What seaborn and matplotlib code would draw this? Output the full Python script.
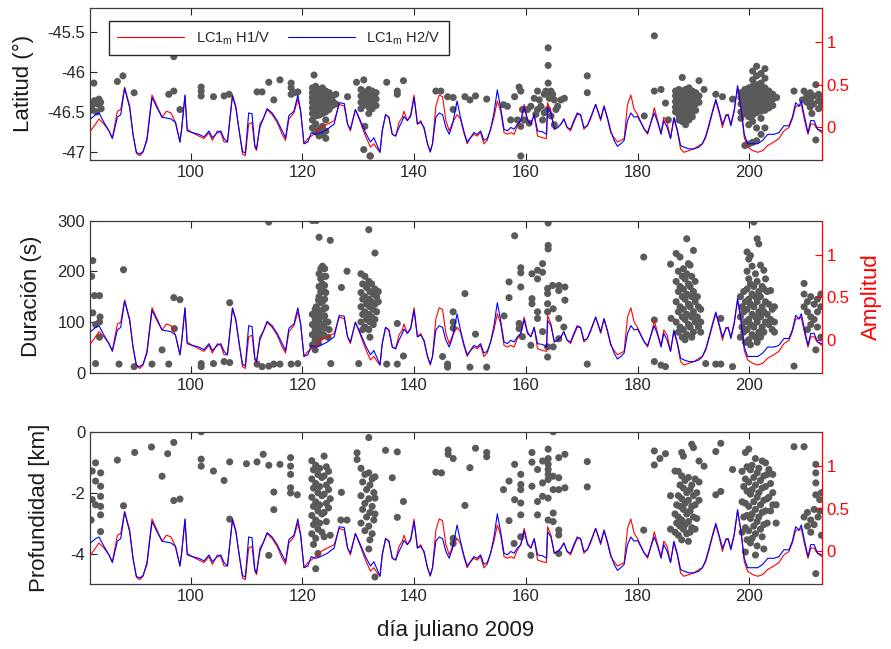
import matplotlib
matplotlib.use("Agg")
import matplotlib.pyplot as plt
import seaborn as sns

sns.set_theme(style="ticks")
plt.rcParams.update({
    "font.family": ["Liberation Sans", "DejaVu Sans"],
    "mathtext.fontset": "custom",
    "mathtext.rm": "Liberation Sans",
    "mathtext.it": "Liberation Sans:italic",
    "axes.unicode_minus": False,
    "xtick.direction": "in",
    "ytick.direction": "in",
})

# ---- amplitude curves (right axis, same in every panel) ----
amp_days = [
    82.1, 83.0, 83.6, 84.5, 85.4, 86.0, 86.9, 87.5, 88.2, 89.1,
    89.7, 90.3, 90.9, 91.5, 92.2, 93.1, 94.0, 94.9, 95.7, 96.5,
    97.3, 98.1, 98.4, 99.0, 99.4, 100.3, 101.5, 102.4, 103.3, 103.9,
    104.8, 105.4, 106.0, 106.6, 107.5, 108.1, 108.7, 109.3, 109.8, 110.4,
    111.0, 111.5, 111.8, 112.4, 113.0, 113.7, 114.6, 115.5, 116.4, 117.0,
    117.6, 118.5, 119.2, 119.7, 120.3, 121.0, 121.6, 122.4, 123.3, 124.5,
    125.7, 126.6, 127.5, 128.1, 128.6, 129.5, 130.4, 131.3, 132.2, 132.8,
    133.4, 133.9, 134.3, 134.9, 135.5, 136.1, 136.7, 137.3, 137.9, 138.2,
    138.8, 139.4, 140.0, 140.6, 141.2, 141.8, 142.4, 142.9, 143.3, 143.9,
    144.5, 145.1, 145.7, 146.3, 146.9, 147.7, 148.3, 148.9, 149.5, 150.1,
    150.7, 151.3, 151.9, 152.5, 153.1, 153.7, 154.3, 154.9, 155.5, 156.1,
    156.7, 157.3, 157.9, 158.5, 159.1, 159.7, 160.3, 160.9, 161.5, 162.1,
    163.0, 163.7, 163.9, 164.5, 165.1, 165.7, 166.3, 166.8, 167.4, 168.0,
    168.6, 169.2, 169.8, 170.4, 171.0, 171.6, 172.5, 173.4, 174.0, 174.6,
    175.2, 175.8, 176.4, 177.0, 177.6, 178.2, 178.8, 179.4, 180.0, 181.2,
    181.8, 182.4, 183.0, 183.6, 184.2, 184.7, 185.3, 185.9, 186.5, 187.1,
    187.7, 188.3, 189.2, 190.1, 191.0, 191.6, 192.2, 192.8, 193.4, 194.0,
    194.6, 195.2, 195.8, 196.2, 196.7, 197.3, 197.9, 198.5, 199.1, 199.7,
    200.6, 201.5, 202.4, 203.3, 204.4, 205.3, 206.2, 207.1, 207.7, 208.3,
    208.9, 209.3, 209.9, 210.5, 211.0, 211.6, 212.2, 213.0,
]
amp_h2 = [
    0.10, 0.15, 0.17, 0.06, -0.04, -0.13, 0.12, 0.15, 0.46, 0.23,
    -0.08, -0.29, -0.31, -0.28, -0.15, 0.35, 0.23, 0.12, 0.11, 0.10,
    0.06, -0.17, -0.02, 0.38, -0.04, -0.06, -0.08, -0.11, -0.04, -0.12,
    -0.06, -0.04, -0.13, -0.17, 0.37, 0.23, -0.04, -0.28, -0.30, 0.17,
    0.16, -0.21, -0.25, 0.00, 0.10, 0.22, 0.17, 0.08, -0.04, -0.12,
    0.14, 0.19, 0.38, 0.19, -0.19, -0.17, -0.06, -0.08, -0.06, -0.02,
    0.04, 0.29, 0.28, 0.04, -0.02, 0.21, 0.08, -0.06, -0.17, -0.12,
    -0.21, -0.29, -0.04, 0.15, 0.12, -0.08, -0.10, 0.00, 0.08, 0.13,
    0.08, 0.13, 0.35, 0.04, 0.06, 0.00, -0.19, -0.28, -0.19, 0.12,
    0.17, 0.15, 0.00, -0.08, 0.04, 0.31, 0.12, -0.04, -0.17, -0.12,
    -0.06, -0.08, -0.04, -0.15, -0.13, -0.02, 0.17, 0.44, 0.23, -0.02,
    -0.04, 0.00, -0.02, 0.04, 0.08, 0.24, 0.08, 0.04, 0.15, -0.04,
    -0.05, -0.08, 0.23, 0.17, -0.02, 0.00, 0.04, 0.10, 0.00, -0.02,
    0.08, 0.17, 0.15, 0.00, 0.02, 0.12, 0.27, 0.10, 0.25, 0.12,
    -0.04, -0.15, -0.22, -0.19, -0.15, 0.08, 0.17, 0.12, 0.13, -0.02,
    -0.06, 0.06, 0.17, 0.06, -0.08, 0.08, 0.00, -0.13, 0.12, -0.02,
    -0.21, -0.23, -0.25, -0.25, -0.23, -0.19, -0.10, 0.04, 0.19, 0.33,
    0.19, 0.04, 0.13, 0.15, 0.02, 0.19, 0.49, 0.23, -0.08, -0.19,
    -0.19, -0.19, -0.15, -0.08, -0.08, -0.06, 0.02, 0.02, 0.12, 0.29,
    0.25, 0.31, 0.12, -0.06, 0.08, 0.08, -0.02, -0.04,
]
amp_h1 = [
    -0.04, 0.04, 0.10, 0.04, -0.04, -0.12, 0.19, 0.21, 0.47, 0.25,
    -0.08, -0.30, -0.33, -0.29, -0.12, 0.38, 0.25, 0.12, 0.19, 0.17,
    0.06, -0.17, -0.02, 0.37, -0.02, -0.06, -0.10, -0.13, -0.06, -0.15,
    -0.04, -0.06, -0.17, -0.17, 0.38, 0.25, -0.04, -0.31, -0.33, 0.04,
    0.06, -0.23, -0.27, 0.04, 0.10, 0.21, 0.15, 0.06, -0.08, -0.15,
    0.10, 0.17, 0.33, 0.19, -0.19, -0.13, -0.10, -0.06, 0.00, 0.04,
    0.08, 0.27, 0.25, 0.04, -0.04, 0.21, 0.06, -0.10, -0.23, -0.19,
    -0.25, -0.29, -0.04, 0.15, 0.12, -0.08, -0.10, 0.06, 0.12, 0.19,
    0.08, 0.15, 0.38, 0.04, 0.08, -0.02, -0.19, -0.29, -0.19, 0.25,
    0.38, 0.36, 0.08, -0.04, 0.06, 0.15, 0.10, -0.06, -0.19, -0.12,
    -0.08, -0.10, -0.06, -0.19, -0.15, -0.02, 0.12, 0.31, 0.19, -0.06,
    -0.08, -0.06, -0.08, 0.02, 0.08, 0.27, 0.10, 0.04, 0.15, -0.10,
    -0.12, -0.13, 0.29, 0.19, -0.02, 0.00, 0.04, 0.10, 0.00, -0.04,
    0.06, 0.15, 0.15, -0.02, 0.02, 0.10, 0.27, 0.08, 0.25, 0.10,
    -0.06, -0.12, -0.17, -0.15, -0.13, 0.27, 0.38, 0.21, 0.15, -0.02,
    -0.08, 0.06, 0.23, 0.08, -0.06, 0.12, 0.06, -0.13, 0.10, -0.04,
    -0.25, -0.29, -0.27, -0.25, -0.21, -0.19, -0.12, 0.02, 0.17, 0.31,
    0.17, 0.00, 0.15, 0.15, 0.04, 0.21, 0.47, 0.25, -0.12, -0.23,
    -0.27, -0.29, -0.27, -0.21, -0.17, -0.13, -0.04, 0.00, 0.10, 0.25,
    0.25, 0.27, 0.08, -0.08, 0.04, 0.04, -0.02, -0.06,
]

# ---- events: latitude (deg) ----
lat_single = [
    (82.3, -46.42), (82.7, -46.14), (82.8, -46.36), (83.3, -46.40), (83.6, -46.34),
    (83.9, -46.38), (82.5, -46.48), (83.2, -46.50), (84.0, -46.46), (86.9, -46.12),
    (87.9, -46.05), (89.9, -46.26), (94.9, -45.74), (97.0, -45.81), (96.1, -46.28),
    (97.0, -46.24), (98.1, -46.47), (101.9, -46.19), (101.9, -46.24), (101.9, -46.30),
    (104.1, -46.31), (106.0, -46.30), (106.9, -46.28), (111.9, -46.25), (112.8, -46.25),
    (114.0, -46.13), (114.9, -46.35), (116.0, -46.10), (118.0, -46.14), (118.0, -46.20),
    (118.0, -46.28), (118.6, -46.26), (119.2, -46.25), (122.1, -46.04), (128.1, -46.31),
    (129.7, -46.13), (131.0, -46.10), (131.0, -46.97), (132.1, -47.05), (131.2, -46.68),
    (132.2, -47.05), (135.1, -46.13), (137.0, -46.24), (137.0, -46.28), (138.1, -46.11),
    (143.9, -46.24), (144.8, -46.24), (146.0, -46.31), (147.0, -46.32), (147.0, -46.47),
    (149.1, -46.31), (150.0, -46.35), (151.0, -46.30), (153.0, -46.34), (156.0, -46.41),
    (159.1, -47.05), (171.0, -46.05), (171.0, -46.26), (181.2, -46.55), (183.0, -45.55),
    (183.0, -46.24), (184.2, -46.22), (185.0, -46.39), (185.5, -46.60), (191.9, -46.22),
    (194.0, -46.28), (195.2, -46.31), (197.0, -46.34), (208.0, -46.24), (209.8, -46.24),
    (209.5, -46.35), (210.3, -46.30), (210.3, -46.38), (210.9, -46.26), (210.9, -46.34),
    (210.9, -46.44), (211.5, -46.30), (211.5, -46.40), (211.9, -46.16), (211.9, -46.85),
    (212.4, -46.28), (212.4, -46.36), (212.4, -46.46), (212.9, -46.32), (212.9, -46.40),
    (211.2, -46.52),
    (156.7, -46.43), (157.3, -46.60), (158.0, -46.31), (158.5, -46.60), (158.8, -46.19),
    (159.1, -46.24), (159.1, -46.68), (159.4, -46.47), (159.7, -46.60), (160.3, -46.47),
    (160.6, -46.64), (160.9, -46.43), (161.5, -46.33), (161.8, -46.53), (162.1, -46.24),
    (162.1, -46.47), (162.4, -46.35), (162.7, -46.43), (163.0, -46.60), (163.3, -46.28),
    (163.3, -46.51), (163.6, -46.24), (163.9, -46.26), (163.9, -46.47), (164.0, -45.70),
    (164.0, -45.92), (164.0, -46.14), (164.2, -46.33), (164.5, -46.24), (164.5, -46.55),
    (164.8, -46.28), (165.1, -46.35), (165.1, -46.66), (165.4, -46.47), (165.7, -46.43),
    (166.3, -46.35), (166.9, -46.33),
]
lat_groups = [
    (121.8, [-46.20, -46.26, -46.32, -46.38, -46.45, -46.52, -46.60, -46.70]),
    (122.4, [-46.18, -46.24, -46.30, -46.36, -46.42, -46.48, -46.55, -46.65, -46.75]),
    (123.0, [-46.22, -46.28, -46.34, -46.40, -46.47, -46.54, -46.72, -46.80]),
    (123.6, [-46.20, -46.27, -46.33, -46.40, -46.46, -46.52, -46.68, -46.78]),
    (124.2, [-46.24, -46.30, -46.36, -46.43, -46.50, -46.60, -46.74, -46.83]),
    (124.8, [-46.26, -46.33, -46.40, -46.47]),
    (125.4, [-46.30, -46.36, -46.42]),
    (126.0, [-46.28, -46.40]),
    (130.5, [-46.22, -46.30, -46.38, -46.46]),
    (131.2, [-46.25, -46.33, -46.41]),
    (131.9, [-46.22, -46.28, -46.36, -46.44, -46.52]),
    (132.5, [-46.24, -46.30, -46.38, -46.46]),
    (133.2, [-46.26, -46.34, -46.42]),
    (186.8, [-46.24, -46.30, -46.37, -46.44, -46.50]),
    (187.4, [-46.22, -46.28, -46.34, -46.40, -46.47, -46.54, -46.60]),
    (188.0, [-46.07, -46.24, -46.30, -46.36, -46.42, -46.48, -46.55, -46.62]),
    (188.6, [-46.22, -46.28, -46.34, -46.40, -46.46, -46.52, -46.58, -46.66]),
    (189.2, [-46.20, -46.26, -46.33, -46.39, -46.45, -46.52, -46.60]),
    (189.8, [-46.24, -46.30, -46.37, -46.44, -46.50, -46.56]),
    (190.4, [-46.26, -46.32, -46.40, -46.48]),
    (191.0, [-46.11, -46.30, -46.38]),
    (198.5, [-46.26, -46.32, -46.40, -46.50, -46.58]),
    (199.2, [-46.22, -46.30, -46.37, -46.44, -46.52, -46.92]),
    (199.9, [-46.20, -46.27, -46.34, -46.41, -46.48, -46.56, -46.66, -46.90]),
    (200.6, [-45.99, -46.10, -46.18, -46.25, -46.32, -46.39, -46.46, -46.54, -46.62, -46.88]),
    (201.3, [-45.93, -46.05, -46.16, -46.23, -46.30, -46.37, -46.44, -46.51, -46.70, -46.86]),
    (202.1, [-46.02, -46.14, -46.21, -46.28, -46.35, -46.42, -46.49, -46.58, -46.78]),
    (202.8, [-45.96, -46.08, -46.20, -46.27, -46.34, -46.41, -46.48, -46.70]),
    (203.5, [-46.24, -46.31, -46.38, -46.45]),
    (204.2, [-46.28, -46.34, -46.42]),
    (204.9, [-46.32]),
]

# ---- events: duration (s) ----
dur_single = [
    (82.5, 221), (82.3, 190), (82.8, 152), (83.7, 152), (82.5, 118), (83.8, 110),
    (83.0, 95), (83.7, 100), (83.7, 70), (83.0, 18), (88.0, 203), (87.2, 17),
    (89.9, 12), (93.1, 17), (94.9, 45), (96.1, 17), (97.0, 148), (98.1, 144),
    (97.1, 87), (101.9, 18), (101.9, 12), (104.1, 18), (106.0, 22), (107.0, 20),
    (107.0, 138), (111.9, 17), (112.8, 12), (114.0, 297), (114.0, 13), (114.9, 17),
    (116.0, 17), (118.0, 17), (119.2, 18), (125.0, 261), (125.1, 18), (127.0, 168),
    (128.0, 200), (130.1, 18), (131.9, 282), (133.0, 236), (135.1, 17), (137.0, 97),
    (137.0, 17), (138.1, 33), (145.1, 32), (146.0, 17), (146.0, 11), (147.0, 120),
    (147.0, 100), (147.0, 88), (149.1, 156), (150.0, 11), (151.0, 76), (153.0, 11),
    (156.1, 112), (157.0, 179), (158.0, 270), (157.0, 148), (159.1, 207), (159.1, 197),
    (159.1, 169), (161.1, 195), (162.1, 202), (162.1, 185), (163.0, 215), (163.0, 198),
    (164.0, 295), (164.0, 251), (164.0, 244), (163.9, 166), (163.9, 156), (164.8, 172),
    (165.9, 172), (165.9, 162), (167.0, 169), (167.0, 143), (161.1, 146), (161.1, 136),
    (162.1, 120), (162.1, 107), (163.9, 136), (163.9, 120), (164.9, 126), (165.9, 107),
    (158.8, 97), (158.8, 87), (159.4, 71), (160.9, 54), (163.0, 81), (163.9, 51),
    (163.9, 31), (165.9, 67), (164.9, 51), (166.8, 90), (171.0, 17), (181.1, 228),
    (183.0, 104), (183.0, 22), (184.2, 15), (185.0, 12), (185.9, 214), (186.0, 107),
    (192.2, 18), (194.0, 17), (194.9, 17), (194.9, 107), (197.0, 12), (208.0, 13),
    (209.8, 176), (209.8, 155), (209.8, 130), (210.4, 140), (210.4, 120), (211.0, 150),
    (211.0, 110), (211.0, 95), (211.6, 135), (211.6, 105), (212.2, 145), (212.2, 120),
    (212.2, 90), (212.8, 155), (212.8, 130), (212.8, 70), (211.9, 45), (210.4, 85),
]
dur_groups = [
    (121.8, [300, 115, 95, 75, 55]),
    (122.3, [125, 105, 85, 65, 45]),
    (122.5, [300, 130, 108, 88, 68]),
    (122.9, [143, 118, 98, 78, 58]),
    (123.0, [267, 195, 170, 150, 122, 100, 80]),
    (123.3, [205, 185, 160, 138, 110, 90, 70]),
    (123.6, [210, 175, 140, 95]),
    (123.8, [190, 160, 125, 75]),
    (124.0, [205, 172, 145, 112, 88]),
    (124.2, [190, 158, 128, 100]),
    (124.6, [100, 70]),
    (124.8, [85]),
    (130.5, [195, 158, 130, 100]),
    (130.8, [175, 145, 115, 85]),
    (131.2, [190, 150, 120, 90]),
    (131.5, [168, 135, 105]),
    (131.9, [180, 145, 115, 85]),
    (132.1, [160, 130, 100, 70]),
    (132.4, [175, 140, 110]),
    (132.7, [155, 125, 95]),
    (133.0, [165, 135, 105]),
    (133.3, [150, 120]),
    (133.6, [160, 140]),
    (186.9, [235, 180, 140, 100]),
    (187.3, [200, 160, 120, 80]),
    (187.6, [228, 170, 130, 90]),
    (188.0, [190, 150, 110, 70]),
    (188.2, [205, 165, 125, 85]),
    (188.5, [185, 145, 105, 65]),
    (188.8, [264, 195, 155, 115, 75]),
    (189.1, [215, 175, 135, 95]),
    (189.4, [212, 170, 130, 90]),
    (189.7, [190, 150, 110, 70]),
    (190.0, [241, 160, 120, 80]),
    (190.3, [180, 140, 100]),
    (190.7, [150, 110]),
    (190.9, [130, 90]),
    (191.3, [125, 100, 80]),
    (198.4, [150, 110, 70]),
    (198.7, [130, 90]),
    (199.0, [160, 120, 80]),
    (199.3, [140, 100, 60]),
    (199.6, [238, 200, 165, 125, 85]),
    (199.9, [224, 185, 145, 105, 65]),
    (200.2, [231, 175, 135, 95, 55]),
    (200.5, [210, 155, 115, 75]),
    (200.8, [297, 170, 130, 90]),
    (201.1, [195, 150, 110, 70]),
    (201.4, [264, 180, 140, 100, 60]),
    (201.7, [254, 160, 120, 80]),
    (202.0, [212, 150, 110, 70]),
    (202.3, [170, 130, 90]),
    (202.6, [202, 165, 120, 80]),
    (202.9, [185, 140, 100]),
    (203.2, [160, 115]),
    (203.5, [135, 95]),
    (203.8, [162, 105]),
    (204.1, [125, 85]),
    (204.5, [130, 100, 80]),
]

# ---- events: depth (km) ----
dep_single = [
    (83.0, -1.02), (83.9, -1.35), (83.0, -1.62), (83.9, -1.79), (83.9, -2.12),
    (82.4, -2.23), (83.0, -2.40), (83.9, -2.45), (83.9, -2.73), (83.9, -3.28),
    (82.4, -1.29), (82.2, -2.90), (86.9, -0.93), (88.0, -2.43), (90.0, -0.68),
    (93.0, -0.50), (94.9, -1.46), (95.9, -0.72), (97.0, -0.35), (97.0, -2.26),
    (98.1, -2.21), (101.9, 0.0), (101.9, -0.90), (101.9, -1.13), (104.1, -1.29),
    (106.0, -1.60), (107.0, -0.99), (107.0, -2.87), (110.0, -1.05), (111.9, -0.99),
    (113.0, -0.74), (114.0, -1.10), (116.0, -1.07), (114.9, -1.98), (114.9, -2.56),
    (117.9, -0.85), (117.9, -1.13), (117.9, -1.40), (117.9, -1.84), (117.9, -2.01),
    (119.1, -2.07), (114.0, -4.06), (127.0, -1.99), (126.9, -2.90), (128.0, -2.90),
    (129.8, -0.69), (129.8, -0.91), (134.9, -0.61), (137.0, -0.66), (136.1, -1.51),
    (138.1, -2.29), (137.0, -2.81), (143.9, -1.33), (144.9, -1.35), (146.1, -0.60),
    (146.1, -0.74), (147.0, -0.88), (147.0, -3.50), (147.0, -3.67), (149.1, -2.42),
    (150.0, -1.18), (151.0, -0.54), (153.0, -0.68), (153.0, -0.82), (156.0, -1.90),
    (157.0, -1.62), (157.0, -2.92), (158.0, -1.07), (158.0, -2.23), (159.1, -1.40),
    (159.1, -1.73), (159.1, -1.90), (159.1, -2.34), (159.1, -2.73), (159.1, -3.45),
    (161.1, -0.68), (161.1, -1.00), (161.1, -1.79), (162.1, -1.24), (162.1, -2.29),
    (162.1, -2.73), (163.0, -0.96), (163.0, -1.68), (163.0, -2.12), (164.0, -0.57),
    (164.0, -0.88), (164.0, -1.07), (164.0, -1.24), (164.0, -1.40), (164.0, -1.57),
    (164.0, -2.18), (164.0, -2.90), (164.9, 0.0), (164.9, -1.46), (164.9, -1.90),
    (164.9, -2.67), (164.9, -2.95), (165.9, -0.85), (165.9, -1.51), (165.9, -1.90),
    (165.9, -3.23), (165.9, -3.39), (167.0, -0.74), (167.0, -1.84), (165.9, -4.00),
    (160.9, -4.06), (157.9, -3.67), (171.0, -0.98), (171.0, -1.81), (181.1, -3.23),
    (183.0, -0.63), (183.0, -1.09), (184.0, -0.88), (185.0, -0.72), (185.9, -2.10),
    (185.9, -3.20), (191.9, -1.13), (194.0, -0.65), (194.9, -0.38), (194.9, -1.96),
    (194.0, -2.07), (197.0, -1.24), (208.0, -0.49), (209.8, -0.49), (209.8, -2.80),
    (210.4, -2.65), (210.4, -3.10), (211.0, -2.90), (211.0, -3.30), (211.6, -2.55),
    (211.6, -3.05), (211.9, -1.07), (211.9, -1.35), (211.9, -1.68), (211.9, -2.07),
    (212.3, -2.80), (212.6, -2.23), (212.6, -2.60), (212.9, -2.00), (211.9, -4.66),
    (212.9, -3.40),
]
dep_groups = [
    (121.7, [-0.95, -1.55, -2.15, -2.75, -3.35]),
    (122.0, [-1.25, -1.85, -2.45, -3.05, -3.70]),
    (122.4, [-1.10, -1.70, -2.30, -2.90, -3.50, -4.50]),
    (122.8, [-1.40, -2.00, -2.60, -3.20, -4.00]),
    (123.1, [-1.20, -1.80, -2.40, -3.00]),
    (123.5, [-1.50, -2.10, -2.70, -3.30]),
    (123.9, [-0.80, -1.45, -2.05, -2.65, -3.45]),
    (124.3, [-1.15, -1.75, -2.35, -2.95]),
    (124.7, [-1.30, -1.90, -2.50]),
    (125.0, [-1.60, -2.20, -3.40]),
    (130.5, [-1.20, -2.10, -3.00]),
    (130.8, [-1.65, -2.55]),
    (131.2, [-1.40, -2.35, -3.25]),
    (131.5, [-1.90, -2.80]),
    (131.9, [-0.19, -1.35, -2.20, -3.10, -3.85]),
    (132.1, [-1.75, -2.65, -3.55]),
    (132.5, [-1.55, -2.45, -3.35]),
    (132.8, [-2.00, -2.90]),
    (133.0, [-1.48, -2.18, -2.70, -4.77]),
    (186.7, [-1.29, -2.70, -3.30]),
    (187.0, [-2.40, -3.00]),
    (187.3, [-1.30, -2.10, -2.80, -3.40]),
    (187.6, [-1.75, -2.45, -3.10]),
    (187.9, [-0.68, -1.45, -2.20, -2.90, -3.55]),
    (188.2, [-0.80, -1.85, -2.55, -3.20]),
    (188.5, [-1.60, -2.35, -3.05]),
    (188.8, [-2.00, -2.70, -3.35]),
    (189.1, [-1.50, -2.25, -2.95, -3.60]),
    (189.4, [-1.90, -2.60, -3.30]),
    (189.7, [-0.41, -1.75, -2.45, -3.15]),
    (190.0, [-0.52, -2.10, -2.80]),
    (190.3, [-1.55, -2.40, -3.20]),
    (190.6, [-2.00, -2.85]),
    (191.0, [-0.96, -1.65, -2.25]),
    (198.7, [-1.30, -2.30, -3.30]),
    (199.0, [-1.80, -2.80]),
    (199.3, [-0.68, -1.55, -2.35, -3.15, -3.95]),
    (199.6, [-1.15, -1.95, -2.75, -3.55]),
    (199.9, [-0.57, -1.65, -2.45, -3.25]),
    (200.2, [-1.25, -2.05, -2.85, -3.65]),
    (200.5, [-1.10, -1.90, -2.70, -3.50]),
    (200.8, [-1.50, -2.30, -3.10]),
    (201.1, [-0.88, -1.75, -2.55, -3.35, -4.05]),
    (201.4, [-1.35, -2.15, -2.95, -3.75]),
    (201.7, [-1.20, -2.00, -2.80]),
    (202.0, [-1.60, -2.40, -3.20]),
    (202.3, [-0.96, -1.85, -2.65, -3.45]),
    (202.6, [-1.45, -2.25, -3.05, -3.85]),
    (202.9, [-1.02, -1.80, -2.60]),
    (203.2, [-1.40, -2.20, -3.00]),
    (203.5, [-1.24, -2.15]),
    (203.8, [-1.70, -2.60]),
    (204.2, [-1.40, -2.00, -2.40]),
    (204.8, [-2.40, -3.00]),
]

day_ticks = [100, 120, 140, 160, 180, 200]
amp_ticks = [0, 0.5, 1]
amp_labels = ["0", "0.5", "1"]
lat_ticks = [-47, -46.5, -46, -45.5]
lat_labels = ["-47", "-46.5", "-46", "-45.5"]
dur_ticks = [0, 100, 200, 300]
dur_labels = ["0", "100", "200", "300"]
dep_ticks = [-4, -2, 0]
dep_labels = ["-4", "-2", "0"]


def expand(single, groups):
    days = [d for d, _ in single]
    vals = [v for _, v in single]
    for d, col in groups:
        days += [d] * len(col)
        vals += list(col)
    return days, vals


FRAME = "#3c3c3c"
DOT = "#5a5a5a"

fig = plt.figure(figsize=(8.91, 6.49), dpi=100)
left, width, height = 0.101, 0.8215, 0.2345
bottoms = [0.7535, 0.4257, 0.1002]

panels = [
    (lat_single, lat_groups, (-47.1, -45.2), lat_ticks, lat_labels, "Latitud (°)", -0.077),
    (dur_single, dur_groups, (0, 300), dur_ticks, dur_labels, "Duración (s)", -0.065),
    (dep_single, dep_groups, (-5, 0), dep_ticks, dep_labels, "Profundidad [km]", -0.054),
]

for i, (single, groups, ylim, yt, ytl, ylab, labx) in enumerate(panels):
    ax = fig.add_axes([left, bottoms[i], width, height])
    days, vals = expand(single, groups)
    sns.scatterplot(x=days, y=vals, ax=ax, color=DOT, s=26, edgecolor="none", linewidth=0)
    ax.set_xlim(82, 213)
    ax.set_ylim(*ylim)
    ax.set_xticks(day_ticks)
    ax.set_xticklabels([str(t) for t in day_ticks])
    ax.set_yticks(yt)
    ax.set_yticklabels(ytl)
    ax.set_ylabel(ylab, fontsize=16, color="#1a1a1a")
    ax.yaxis.set_label_coords(labx, 0.5)
    ax.tick_params(axis="both", labelsize=12, colors="#262626", length=5, width=0.8,
                   top=True, right=False)
    for side in ["left", "bottom", "top"]:
        ax.spines[side].set_color(FRAME)
        ax.spines[side].set_linewidth(0.9)
        ax.spines[side].set_visible(True)
    ax.spines["right"].set_visible(False)

    axr = ax.twinx()
    sns.lineplot(x=amp_days, y=amp_h1, ax=axr, color="#ff0000", linewidth=0.8,
                 estimator=None, sort=False, label="LC1$_\\mathrm{m}$ H1/V", legend=False)
    sns.lineplot(x=amp_days, y=amp_h2, ax=axr, color="#0000ff", linewidth=0.8,
                 estimator=None, sort=False, label="LC1$_\\mathrm{m}$ H2/V", legend=False)
    axr.set_xlim(82, 213)
    axr.set_ylim(-0.38, 1.40)
    axr.set_yticks(amp_ticks)
    axr.set_yticklabels(amp_labels)
    axr.tick_params(axis="y", labelsize=12, colors="#ff0000", length=5, width=0.8)
    axr.spines["right"].set_color("#ff0000")
    axr.spines["right"].set_linewidth(0.9)
    for side in ["left", "bottom", "top"]:
        axr.spines[side].set_visible(False)
    axr.set_ylabel("")
    if i == 1:
        axr.set_ylabel("Amplitud", fontsize=16, color="#ff0000", labelpad=8)
    if i == 0:
        axr.legend(handles=axr.get_lines(), loc="upper left", bbox_to_anchor=(0.016, 0.96),
                   ncol=2, fontsize=10.5, frameon=True, fancybox=False, edgecolor="#262626",
                   framealpha=1, handlelength=4.6, columnspacing=1.2, borderpad=0.55)
    ax.set_xlabel("")
    if i == 2:
        ax.set_xlabel("día juliano 2009", fontsize=16, color="#1a1a1a", labelpad=12)

fig.savefig("out.png", dpi=100)
